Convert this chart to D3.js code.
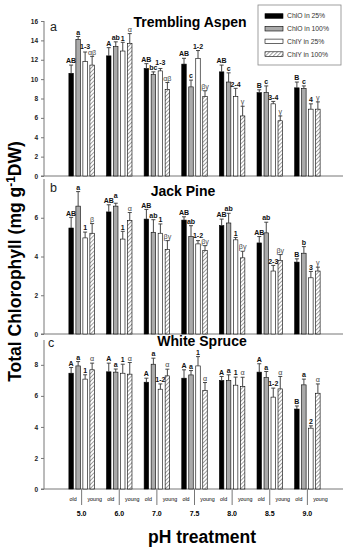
<!DOCTYPE html>
<html><head><meta charset="utf-8">
<script src="https://cdn.jsdelivr.net/npm/d3@7"></script>
<style>body{margin:0;background:#fff}svg{display:block;font-family:"Liberation Sans",Arial,sans-serif}</style>
</head><body><svg id="c" width="349" height="550"></svg>
<script>
const groups = ["5.0","6.0","7.0","7.5","8.0","8.5","9.0"];
const series = ["ChlO in 25%","ChlO in 100%","ChlY in 25%","ChlY in 100%"];

const aspenMeans = [
  [10.6,12.4,11.1,11.55,10.75,8.6,9.1],
  [14.1,13.35,10.5,9.2,9.7,8.6,9.05],
  [11.8,12.9,10.85,12.15,8.2,7.45,6.9],
  [11.45,13.7,8.95,8.2,6.2,5.7,6.9]];
const aspenErr = [
  [0.85,0.85,0.5,0.6,0.7,0.3,0.6],
  [0.3,0.5,0.25,0.7,0.95,0.7,0.25],
  [1.0,0.9,0.25,0.8,0.85,0.25,0.55],
  [0.9,1.0,0.7,0.6,1.0,0.5,0.75]];
const aspenLabels = [
  ["AB","A","AB","AB","AB","B","B"],
  ["a","ab","bc","c","c","c","c"],
  ["1-3","1","1-3","1-2","2-4","3-4","4"],
  ["αβ","α","αβ","βγ","γ","γ","γ"]];

const pineMeans = [
  [5.47,6.3,5.93,5.88,5.59,4.7,3.71],
  [6.6,6.6,5.25,5.03,5.73,5.22,4.17],
  [4.96,4.9,5.2,4.65,4.86,3.25,2.9],
  [5.2,5.85,4.36,4.3,3.93,3.8,3.25]];
const pineErr = [
  [0.55,0.37,0.5,0.17,0.34,0.33,0.17],
  [0.75,0.15,0.65,0.56,0.5,0.55,0.34],
  [0.3,0.4,0.48,0.17,0.12,0.29,0.33],
  [0.5,0.42,0.46,0.26,0.34,0.3,0.2]];
const pineLabels = [
  ["AB","AB","AB","AB","AB","AB","B"],
  ["a","a","ab","ab","ab","ab","b"],
  ["1","1","1","1-2","1","2-3","3"],
  ["β","α","βγ","βγ","βγ","βγ","γ"]];

const spruceMeans = [
  [7.46,7.55,6.88,7.14,6.99,7.53,5.15],
  [7.93,7.53,8.04,7.35,6.99,7.18,6.71],
  [7.08,7.46,6.43,7.93,6.69,5.92,3.92],
  [7.68,7.4,7.29,6.34,6.6,6.45,6.17]];
const spruceErr = [
  [0.37,0.56,0.26,0.54,0.26,0.54,0.2],
  [0.28,0.2,0.39,0.28,0.37,0.39,0.37],
  [0.28,0.58,0.34,0.6,0.52,0.58,0.15],
  [0.43,0.75,0.43,0.52,0.6,0.8,0.6]];
const spruceLabels = [
  ["A","A","A","A","A","A","B"],
  ["a","a","a","a","a","a","a"],
  ["1","1","1-2","1","1","1-2","2"],
  ["α","α","α","α","α","α","α"]];

const aspenTicks = [0,2,4,6,8,10,12,14,16];
const pineTicks = [0,2,4,6];
const spruceTicks = [0,2,4,6,8];
const subLabels = ["old","young"];

const svg = d3.select("#c");
const defs = svg.append("defs");
const pat = defs.append("pattern").attr("id","hatch").attr("patternUnits","userSpaceOnUse")
  .attr("width",2.8).attr("height",2.8).attr("patternTransform","rotate(45)");
pat.append("rect").attr("width",2.8).attr("height",2.8).attr("fill","#fff");
pat.append("line").attr("x1",0).attr("y1",0).attr("x2",0).attr("y2",2.8).attr("stroke","#555").attr("stroke-width",1.1);

const fills = ["#000","#aaaaaa","#fff","url(#hatch)"];
const axisColor = "#777";
const x0 = d3.scalePoint().domain(groups).range([44,345]).padding(1);
const x1 = d3.scaleBand().domain(series).range([-14,14]).paddingInner(0.36).paddingOuter(0.18);

const panels = [
  {means:aspenMeans, err:aspenErr, labels:aspenLabels, title:"Trembling Aspen", letter:"a",
   domain:[0,16], range:[176,21], ticks:aspenTicks, tx:190, ty:27, ly:31},
  {means:pineMeans, err:pineErr, labels:pineLabels, title:"Jack Pine", letter:"b",
   domain:[0,8], range:[334,179], ticks:pineTicks, tx:183, ty:196, ly:192},
  {means:spruceMeans, err:spruceErr, labels:spruceLabels, title:"White Spruce", letter:"c",
   domain:[0,9.6], range:[489,340], ticks:spruceTicks, tx:202, ty:346, ly:347}
];

panels.forEach((p,pi)=>{
  const y = d3.scaleLinear().domain(p.domain).range(p.range);
  const g = svg.append("g");
  const ya = g.append("g").attr("transform","translate(44,0)")
    .call(d3.axisLeft(y).tickValues(p.ticks).tickSize(3).tickPadding(3).tickFormat(d3.format("d")));
  ya.select(".domain").attr("stroke",axisColor).attr("d",`M0,${p.range[0]}V${p.range[1]}`);
  ya.selectAll(".tick line").attr("stroke",axisColor);
  ya.selectAll(".tick text").attr("font-size",6.5).attr("font-weight","bold").attr("fill","#222");
  g.append("line").attr("x1",41).attr("x2",343).attr("y1",y(0)).attr("y2",y(0))
    .attr("stroke",axisColor).attr("stroke-width",1);
  const labelNodes = groups.map(()=>[]);
  series.forEach((s,si)=>{
    const cx = gi => x0(groups[gi]) + x1(s);
    const bw = x1.bandwidth();
    g.selectAll(null).data(p.means[si]).join("rect")
      .attr("x",(d,i)=>cx(i)).attr("width",bw)
      .attr("y",d=>y(d)).attr("height",d=>y(0)-y(d))
      .attr("fill",fills[si]).attr("stroke","#000").attr("stroke-width",0.6);
    g.selectAll(null).data(p.means[si]).join("path")
      .attr("d",(d,i)=>{const xc=cx(i)+bw/2, yt=y(d+p.err[si][i]);
        return `M${xc},${y(d)}V${yt}M${xc-2},${yt}H${xc+2}`;})
      .attr("stroke","#333").attr("stroke-width",0.9).attr("fill","none");
    const fs = si===3?7.2:7;
    g.selectAll(null).data(p.means[si]).join("text")
      .attr("x",(d,i)=>cx(i)+bw/2).attr("y",(d,i)=>y(d+p.err[si][i])-1.8)
      .attr("text-anchor","middle")
      .attr("font-size",fs).attr("font-weight",si===3?"normal":"bold")
      .attr("fill",si===3?"#444":"#111")
      .text((d,i)=>p.labels[si][i])
      .each(function(d,i){labelNodes[i][si]={node:this,fs:fs};});
  });
  // nudge overlapping neighbour labels: lift the higher one above the lower one
  labelNodes.forEach(row=>{
    for(let si=1;si<row.length;si++){
      const L=[row[si-1],row[si]].map(o=>{
        const x=+o.node.getAttribute("x"), w=o.node.getComputedTextLength(), b=+o.node.getAttribute("y");
        return {o, l:x-w/2, r:x+w/2, b, t:b-0.72*o.fs};});
      const [A,B]=L;
      if(A.l<B.r && B.l<A.r && A.t<B.b && B.t<A.b){
        const hi = A.b<B.b?A:B, lo = hi===A?B:A;
        hi.o.node.setAttribute("y", lo.t-0.4);
      }
    }
  });
  g.append("text").attr("x",p.tx).attr("y",p.ty).attr("text-anchor","middle")
    .attr("font-size",14).attr("font-weight","bold").text(p.title);
  g.append("text").attr("x",pi===2?48:50).attr("y",p.ly).attr("font-size",12.5).attr("fill","#222").text(p.letter);
  if(pi===2){
    const yb = y(0);
    groups.forEach(gr=>{
      const c = x0(gr);
      g.append("line").attr("x1",c).attr("x2",c).attr("y1",yb).attr("y2",yb+16).attr("stroke",axisColor);
      g.append("text").attr("x",c-8.5).attr("y",yb+12).attr("text-anchor","middle").attr("font-size",5.3).text(subLabels[0]);
      g.append("text").attr("x",c+13).attr("y",yb+12).attr("text-anchor","middle").attr("font-size",5.3).text(subLabels[1]);
      g.append("text").attr("x",c).attr("y",yb+27).attr("text-anchor","middle").attr("font-size",7).attr("font-weight","bold").text(gr);
    });
  }
});

const lg = svg.append("g");
lg.append("rect").attr("x",258).attr("y",5).attr("width",83).attr("height",60).attr("fill","#fff").attr("stroke","#888").attr("stroke-width",0.8);
series.forEach((s,i)=>{
  const yy = 16 + i*12.7;
  lg.append("rect").attr("x",265).attr("y",yy-2.3).attr("width",18).attr("height",4.6)
    .attr("fill",fills[i]).attr("stroke","#000").attr("stroke-width",0.6);
  lg.append("text").attr("x",287).attr("y",yy+2.4).attr("font-size",6.8).attr("fill","#333").text(s);
});

svg.append("text").attr("x",202).attr("y",543).attr("text-anchor","middle")
  .attr("font-size",17.5).attr("font-weight","bold").text("pH treatment");
const yt = svg.append("text").attr("transform","translate(20.5,261.5) rotate(-90)")
  .attr("text-anchor","middle").attr("font-size",17.5).attr("font-weight","bold");
yt.append("tspan").text("Total Chlorophyll (mg g");
yt.append("tspan").attr("font-size",12).attr("dy",-6).text("-1");
yt.append("tspan").attr("dy",6).text("DW)");
</script></body></html>
